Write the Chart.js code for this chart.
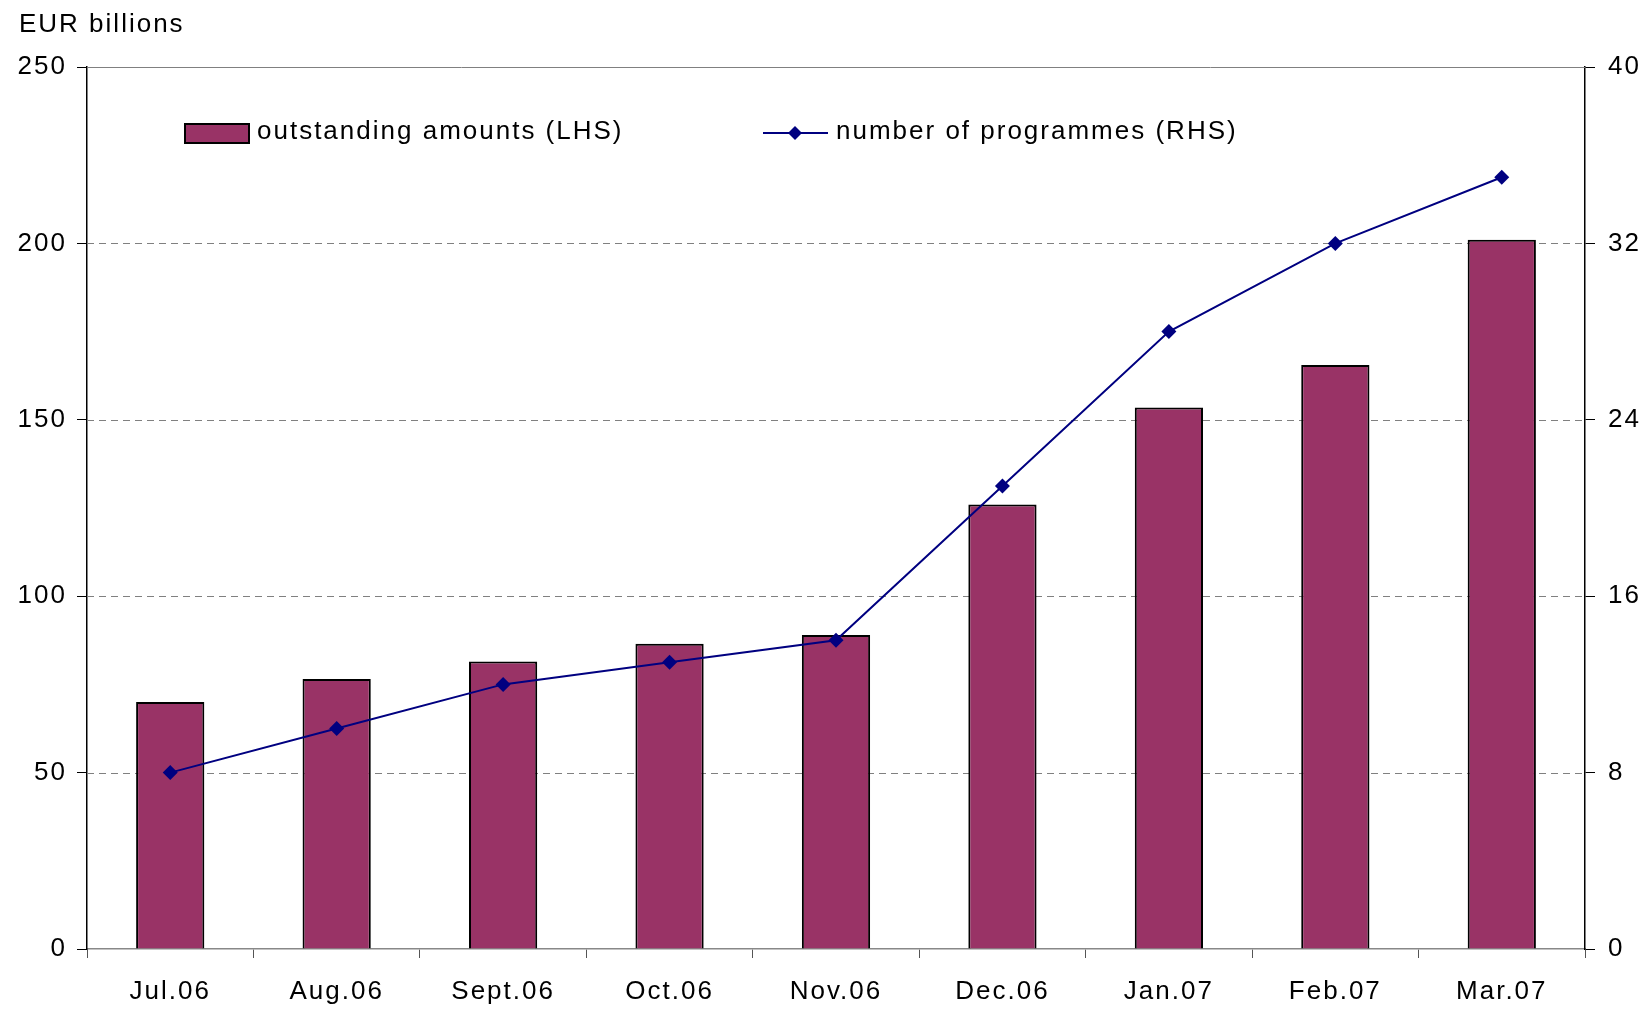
<!DOCTYPE html>
<html>
<head>
<meta charset="utf-8">
<script src="https://cdn.jsdelivr.net/npm/chart.js@4.4.1/dist/chart.umd.min.js"></script>
<style>
  html, body { margin: 0; padding: 0; background: #fff; }
  #wrap { position: relative; width: 1646px; height: 1009px; }
</style>
</head>
<body>
<div id="wrap"><canvas id="myChart"></canvas></div>
<script>
// months on the x axis
const months = ["Jul.06", "Aug.06", "Sept.06", "Oct.06", "Nov.06", "Dec.06", "Jan.07", "Feb.07", "Mar.07"];
// outstanding amounts, EUR billions (LHS)
const outstandingAmounts = [70, 76.5, 81.5, 86.5, 89, 126, 153.5, 165.5, 201];
// number of programmes (RHS)
const numberOfProgrammes = [8, 10, 12, 13, 14, 21, 28, 32, 35];

const leftTicks = [0, 50, 100, 150, 200, 250];
const rightTicks = [0, 8, 16, 24, 32, 40];

const barColor = "#993366";
const lineColor = "#000080";
const fontFamily = "'Liberation Sans', Arial, sans-serif";
const fontSize = 26;
const spacing = "2px";

// dashed gridlines + unit label + legend, drawn on the canvas
const extras = {
  id: "extras",
  beforeDraw(chart) {
    // the old chart text is spread out a bit
    chart.ctx.letterSpacing = spacing;
  },
  beforeDatasetsDraw(chart) {
    const ctx = chart.ctx;
    const area = chart.chartArea;
    const y = chart.scales.y;
    ctx.save();
    ctx.strokeStyle = "#808080";
    ctx.lineWidth = 1;
    leftTicks.forEach((v) => {
      if (v === 0) return;
      const py = Math.round(y.getPixelForValue(v)) + 0.5;
      ctx.setLineDash(v === 250 ? [] : [7, 5]);
      ctx.beginPath();
      ctx.moveTo(area.left, py);
      ctx.lineTo(area.right, py);
      ctx.stroke();
    });
    ctx.restore();
  },
  afterDraw(chart) {
    const ctx = chart.ctx;
    ctx.save();
    ctx.letterSpacing = spacing;
    ctx.font = fontSize + "px " + fontFamily;
    ctx.fillStyle = "#000";
    ctx.textBaseline = "middle";
    ctx.fillText("EUR billions", 19, 25);

    // legend: bars
    ctx.fillStyle = barColor;
    ctx.fillRect(185, 124, 64, 19);
    ctx.strokeStyle = "#000";
    ctx.lineWidth = 2;
    ctx.strokeRect(185, 124, 64, 19);
    ctx.fillStyle = "#000";
    ctx.fillText("outstanding amounts (LHS)", 257, 132);

    // legend: line
    ctx.strokeStyle = lineColor;
    ctx.lineWidth = 2;
    ctx.beginPath();
    ctx.moveTo(763, 133);
    ctx.lineTo(828, 133);
    ctx.stroke();
    ctx.fillStyle = lineColor;
    ctx.beginPath();
    ctx.moveTo(795, 126);
    ctx.lineTo(802, 133);
    ctx.lineTo(795, 140);
    ctx.lineTo(788, 133);
    ctx.closePath();
    ctx.fill();
    ctx.fillStyle = "#000";
    ctx.fillText("number of programmes (RHS)", 836, 132);
    ctx.restore();
  },
};

const ctx = document.getElementById("myChart").getContext("2d");

const myChart = new Chart(ctx, {
  type: "bar",
  data: {
    labels: months,
    datasets: [
      {
        type: "line",
        label: "number of programmes (RHS)",
        data: numberOfProgrammes,
        yAxisID: "y1",
        borderColor: lineColor,
        backgroundColor: lineColor,
        borderWidth: 2,
        tension: 0,
        pointStyle: "rectRot",
        pointRadius: 7.5,
        pointBorderWidth: 0,
        order: 0,
      },
      {
        type: "bar",
        label: "outstanding amounts (LHS)",
        data: outstandingAmounts,
        yAxisID: "y",
        backgroundColor: barColor,
        borderColor: "#000",
        borderWidth: 2,
        borderSkipped: "bottom",
        categoryPercentage: 1,
        barPercentage: 0.41,
        order: 1,
      },
    ],
  },
  options: {
    responsive: true,
    maintainAspectRatio: false,
    animation: false,
    layout: { padding: { top: 67, left: 0, right: 0, bottom: 0 } },
    plugins: {
      legend: { display: false },
      tooltip: { enabled: false },
    },
    scales: {
      x: {
        offset: true,
        grid: {
          offset: true,
          drawOnChartArea: false,
          tickLength: 9,
          tickColor: "#555",
        },
        border: { color: "#888", width: 1.5 },
        ticks: {
          color: "#000",
          padding: 18,
          font: { family: fontFamily, size: fontSize },
        },
        afterFit: (scale) => { scale.height = 60; },
      },
      y: {
        position: "left",
        min: 0,
        max: 250,
        afterBuildTicks: (scale) => { scale.ticks = leftTicks.map((v) => ({ value: v })); },
        grid: { drawOnChartArea: false, tickLength: 10, tickColor: "#000" },
        border: { color: "#000", width: 1.5 },
        ticks: {
          color: "#000",
          padding: 10,
          font: { family: fontFamily, size: fontSize },
        },
        afterFit: (scale) => { scale.width = 87; },
      },
      y1: {
        position: "right",
        min: 0,
        max: 40,
        afterBuildTicks: (scale) => { scale.ticks = rightTicks.map((v) => ({ value: v })); },
        grid: { drawOnChartArea: false, tickLength: 10, tickColor: "#000" },
        border: { color: "#000", width: 1.5 },
        ticks: {
          color: "#000",
          padding: 13,
          font: { family: fontFamily, size: fontSize },
        },
        afterFit: (scale) => { scale.width = 61; },
      },
    },
  },
  plugins: [extras],
});
</script>
</body>
</html>
